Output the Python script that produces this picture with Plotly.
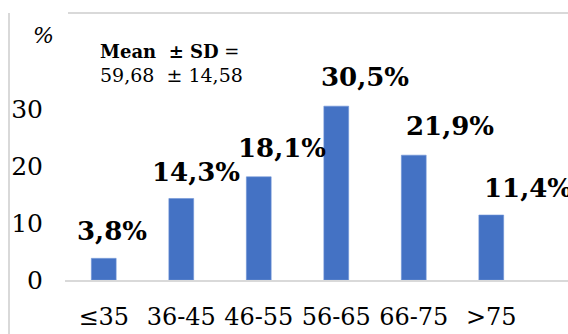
import plotly.graph_objects as go

categories = ["≤35", "36-45", "46-55", "56-65", "66-75", ">75"]
values = [3.8, 14.3, 18.1, 30.5, 21.9, 11.4]
y_ticks = [0, 10, 20, 30]
mean_sd_title = "Mean  ± SD"
mean_sd_value = "59,68  ± 14,58"

# label pixel offsets (manual label placement as in the original)
label_dx = [8, 15, 23, 29, 36, 37]
label_dy = [10, 9, 12, 12, 12, 10]

W, H = 568, 334
ML, MR, MT, MB = 65, 0, 52, 54
PW = W - ML - MR
PH = H - MT - MB

def px_x(p):
    return (p - ML) / PW

def px_y(p):
    return (H - MB - p) / PH

fig = go.Figure()
fig.add_trace(go.Bar(
    x=list(range(len(categories))), y=values,
    marker=dict(color="#4472C4", line=dict(color="#6f93d6", width=0.6)),
    width=0.32,
    hoverinfo="skip",
))

font_serif = "DejaVu Serif"

annotations = []
for i, v in enumerate(values):
    annotations.append(dict(
        x=i, y=v, xref="x", yref="y",
        text="<b>" + (f"{v:.1f}".replace(".", ",")) + "%</b>",
        showarrow=False, xanchor="center", yanchor="bottom",
        xshift=label_dx[i], yshift=label_dy[i],
        font=dict(family=font_serif, size=26, color="#000000"),
    ))

annotations.append(dict(
    x=px_x(98), y=px_y(51), xref="paper", yref="paper",
    text="<b>" + mean_sd_title + "</b> =", showarrow=False,
    xanchor="left", yanchor="middle",
    font=dict(family=font_serif, size=18, color="#000000"),
))
annotations.append(dict(
    x=px_x(98), y=px_y(75), xref="paper", yref="paper",
    text=mean_sd_value, showarrow=False,
    xanchor="left", yanchor="middle",
    font=dict(family=font_serif, size=19, color="#000000"),
))
annotations.append(dict(
    x=px_x(43), y=px_y(35), xref="paper", yref="paper",
    text="<i>%</i>", showarrow=False,
    xanchor="center", yanchor="middle",
    font=dict(family=font_serif, size=22, color="#000000"),
))

shapes = [
    dict(type="line", xref="paper", yref="paper",
         x0=px_x(9), x1=px_x(9), y0=px_y(13), y1=px_y(H),
         line=dict(color="#d9d9d9", width=2)),
    dict(type="line", xref="paper", yref="paper",
         x0=px_x(68), x1=px_x(W), y0=px_y(13), y1=px_y(13),
         line=dict(color="#d9d9d9", width=2)),
]

fig.update_layout(
    width=W, height=H,
    margin=dict(l=ML, r=MR, t=MT, b=MB, pad=0, autoexpand=False),
    paper_bgcolor="white", plot_bgcolor="white",
    showlegend=False,
    annotations=annotations,
    shapes=shapes,
    xaxis=dict(
        tickmode="array", tickvals=list(range(len(categories))), ticktext=categories,
        range=[-0.5, 5.99], showgrid=False, zeroline=False, automargin=False,
        showline=True, linecolor="#d9d9d9", linewidth=2,
        ticks="", ticklabelstandoff=14,
        tickfont=dict(family=font_serif, size=24, color="#000000"),
    ),
    yaxis=dict(
        range=[0, 40], tickvals=y_ticks, showgrid=False, zeroline=False,
        showline=False, ticks="", ticklabelstandoff=21, automargin=False,
        tickfont=dict(family=font_serif, size=25, color="#000000"),
    ),
)

fig.write_html("out.html")
